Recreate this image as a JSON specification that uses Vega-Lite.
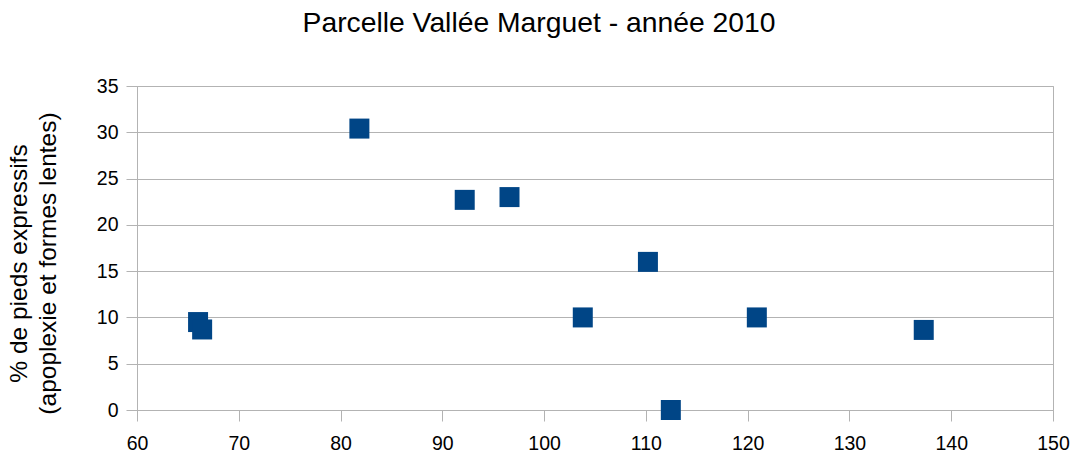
{
  "$schema": "https://vega.github.io/schema/vega-lite/v6.json",
  "autosize": "none",
  "width": 916,
  "height": 324,
  "padding": {"left": 137, "top": 86, "right": 27, "bottom": 44},
  "background": "white",
  "config": {
    "font": "Liberation Sans",
    "view": {"stroke": "#b3b3b3", "strokeWidth": 1}
  },
  "title": {
    "text": "Parcelle Vallée Marguet - année 2010",
    "fontSize": 28.3,
    "fontWeight": "normal",
    "color": "black",
    "anchor": "middle",
    "frame": "group",
    "dx": -56,
    "baseline": "bottom",
    "offset": 10
  },
  "data": {
    "values": [
      {"x": 66.0, "y": 9.5},
      {"x": 66.4, "y": 8.7},
      {"x": 81.85, "y": 30.4},
      {"x": 92.2, "y": 22.7},
      {"x": 96.6, "y": 23.0},
      {"x": 103.8, "y": 10.0},
      {"x": 110.2, "y": 16.0},
      {"x": 112.45, "y": 0.0},
      {"x": 120.9, "y": 10.0},
      {"x": 137.3, "y": 8.65}
    ]
  },
  "mark": {"type": "square", "size": 400, "color": "#004586", "opacity": 1, "filled": true},
  "encoding": {
    "x": {
      "field": "x",
      "type": "quantitative",
      "scale": {"domain": [60, 150], "nice": false, "zero": false},
      "axis": {
        "title": null,
        "values": [60, 70, 80, 90, 100, 110, 120, 130, 140, 150],
        "grid": false,
        "domainColor": "#b3b3b3",
        "tickColor": "#b3b3b3",
        "tickSize": 11,
        "labelFontSize": 19.5,
        "labelColor": "black",
        "labelPadding": 13,
        "labelFlush": false
      }
    },
    "y": {
      "field": "y",
      "type": "quantitative",
      "scale": {"domain": [0, 35], "nice": false},
      "axis": {
        "title": ["% de pieds expressifs", "(apoplexie et formes lentes)"],
        "titleFontSize": 24.5,
        "titleFontWeight": "normal",
        "titleColor": "black",
        "titleLineHeight": 29,
        "titlePadding": 36,
        "titleY": 177,
        "values": [0, 5, 10, 15, 20, 25, 30, 35],
        "grid": true,
        "gridColor": "#b3b3b3",
        "domainColor": "#b3b3b3",
        "tickColor": "#b3b3b3",
        "tickSize": 11,
        "labelFontSize": 19.5,
        "labelColor": "black",
        "labelPadding": 8,
        "labelFlush": false
      }
    }
  }
}
